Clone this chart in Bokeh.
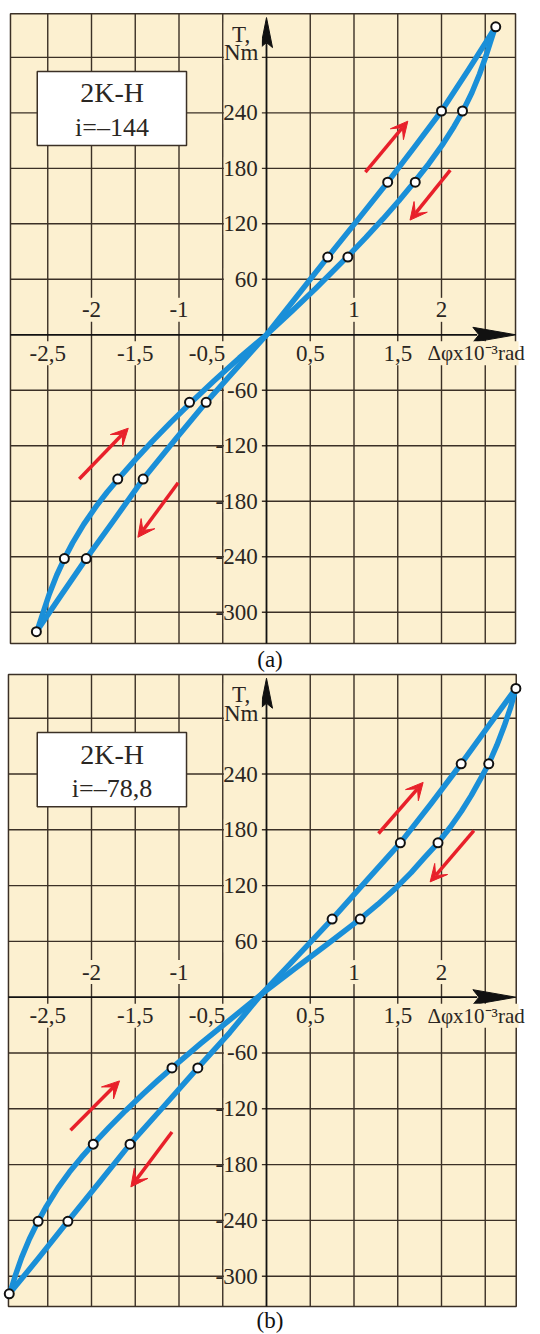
from bokeh.plotting import figure
from bokeh.layouts import column
from bokeh.models import Range1d, Arrow, VeeHead
from bokeh.core.properties import value
from bokeh.embed import file_html
from bokeh.resources import INLINE

# ---------------- data ----------------
x_grid = [-2.5, -2.0, -1.5, -1.0, -0.5, 0.5, 1.0, 1.5, 2.0, 2.5]
y_grid = [-300, -240, -180, -120, -60, 60, 120, 180, 240, 300]
x_int_ticks = [-2, -1, 1, 2]
x_int_labels = ["-2", "-1", "1", "2"]
x_half_ticks = [-2.5, -1.5, -0.5, 0.5, 1.5]
x_half_labels = ["-2,5", "-1,5", "-0,5", "0,5", "1,5"]
y_label_ticks = [240, 180, 120, 60, -60, -120, -180, -240, -300]
y_labels = ["240", "180", "120", "60", "-60", "-120", "-180", "-240", "-300"]

# panel (a) i=-144 : S-shaped branch and nearly straight branch
a_S_x = [-2.624, -2.552, -2.481, -2.398, -2.310, -2.216, -2.089, -1.943, -1.820, -1.695,
         -1.499, -1.303, -1.097, -0.860, -0.602, -0.311, 0.0,
         0.284, 0.562, 0.920, 1.134, 1.328, 1.513, 1.688, 1.855, 2.007, 2.142, 2.245,
         2.348, 2.435, 2.510, 2.564, 2.615]
a_S_y = [-321, -300, -280, -260, -242, -225, -205, -185, -170, -156,
         -135, -115, -95, -73, -50, -25, 0,
         25, 50, 84, 105, 125, 145, 165, 185, 205, 225, 242,
         262, 282, 302, 318, 333]
a_L_x = [-2.63, -2.35, -2.06, -1.74, -1.41, -1.05, -0.69, -0.34, 0.0, 0.35, 0.70, 1.04,
         1.385, 1.69, 2.00, 2.31, 2.62]
a_L_y = [-321, -282, -242, -200, -156, -114, -73, -36, 0, 42, 84, 124,
         165, 203, 242, 287, 333]
a_mk_x = [2.62, 2.00, 2.24, 1.385, 1.70, 0.70, 0.93, -0.88, -0.69, -1.70, -1.41, -2.31, -2.06, -2.63]
a_mk_y = [333, 242, 242, 165, 165, 84, 84, -73, -73, -156, -156, -242, -242, -321]

# panel (b) i=-78,8
b_S_x = [-2.934, -2.873, -2.799, -2.710, -2.610, -2.516, -2.383, -2.252, -2.113, -1.980,
         -1.800, -1.611, -1.411, -1.248, -1.079, -0.754, -0.416, -0.06,
         0.314, 0.694, 1.069, 1.274, 1.474, 1.653, 1.805, 1.960, 2.102, 2.228, 2.341, 2.441,
         2.540, 2.633, 2.715, 2.788, 2.850]
b_S_y = [-319, -300, -280, -260, -241, -225, -205, -188, -172, -158,
         -140, -122, -104, -90, -76, -50, -24, 3,
         30, 57, 84, 100, 117, 134, 150, 166, 183, 200, 217, 234,
         251, 271, 291, 311, 332]
b_L_x = [-2.94, -2.60, -2.27, -1.90, -1.56, -1.17, -0.785, -0.42, -0.06, 0.35, 0.75, 1.14,
         1.53, 1.88, 2.225, 2.54, 2.85]
b_L_y = [-319, -280, -241, -198, -158, -117, -76, -38, 3, 44, 84, 125,
         166, 208, 251, 292, 332]
b_mk_x = [2.85, 2.225, 2.54, 1.53, 1.96, 0.75, 1.07, -1.08, -0.785, -1.98, -1.56, -2.61, -2.27, -2.94]
b_mk_y = [332, 251, 251, 166, 166, 84, 84, -76, -76, -158, -158, -241, -241, -319]

# ---------------- styles ----------------
CREAM = "#fcf0d0"
GRID = "#3b3026"
BLUE = "#1a8fd8"
RED = "#e8202a"
TXT = "#2a2622"
FONT = value("Liberation Serif")
XPX = 87.5  # pixels per x unit


def make_panel(S_x, S_y, L_x, L_y, mk_x, mk_y, ratio_text, caption, cap_px, y0px, tpp,
               box, arrows, H):
    p = figure(width=540, height=H, x_axis_type=None, y_axis_type=None,
               toolbar_location=None, output_backend="svg", min_border=0,
               x_range=Range1d(-266 / XPX, (540 - 266) / XPX),
               y_range=Range1d(-(H - y0px) * tpp, y0px * tpp),
               background_fill_color="white", border_fill_color="white",
               outline_line_color=None)
    xl, xr, yb, yt = box
    # panel background + frame
    p.quad(left=[xl], right=[xr], bottom=[yb], top=[yt], fill_color=CREAM,
           line_color=GRID, line_width=1.5)
    # grid
    p.segment(x0=x_grid, x1=x_grid, y0=[yb] * len(x_grid), y1=[yt] * len(x_grid),
              line_color=GRID, line_width=1.4)
    p.segment(x0=[xl] * len(y_grid), x1=[xr] * len(y_grid), y0=y_grid, y1=y_grid,
              line_color=GRID, line_width=1.4)
    # axes lines
    xa_base = 2.85 - 43 / XPX
    p.segment(x0=[xl], x1=[xa_base + 0.05], y0=[0], y1=[0], line_color="#111111", line_width=1.8)
    ya_tip = 343
    ya_base = ya_tip - 30 * tpp
    p.segment(x0=[0], x1=[0], y0=[yb], y1=[ya_base + 5 * tpp], line_color="#111111", line_width=1.8)
    # axis arrow heads
    hh = 7.5 * tpp
    p.patch(x=[2.85, xa_base, xa_base + 6 / XPX, xa_base], y=[0, hh, 0, -hh],
            fill_color="#111111", line_color="#111111", line_width=1)
    hw = 6 / XPX
    p.patch(x=[0, hw, 0, -hw], y=[ya_tip, ya_base, ya_base + 5 * tpp, ya_base],
            fill_color="#111111", line_color="#111111", line_width=1)

    # label masks
    p.rect(x=[-0.27] * len(y_label_ticks), y=y_label_ticks, width=38, height=22,
           width_units="screen", height_units="screen", fill_color=CREAM, line_color=None)
    p.rect(x=[-0.27], y=[315], width=38, height=42, width_units="screen",
           height_units="screen", fill_color=CREAM, line_color=None)
    p.rect(x=x_int_ticks, y=[27] * len(x_int_ticks), width=26, height=24,
           width_units="screen", height_units="screen", fill_color=CREAM, line_color=None)
    half_pos = [t - 0.18 if t == -0.5 else t for t in x_half_ticks]
    p.rect(x=half_pos, y=[-20] * len(half_pos), width=42, height=24,
           width_units="screen", height_units="screen", fill_color=CREAM, line_color=None)
    p.rect(x=[(424 + 518) / 2 / XPX - 266 / XPX], y=[-20], width=94, height=24,
           width_units="screen", height_units="screen", fill_color=CREAM, line_color=None)

    # tick labels
    p.text(x=[-0.1] * len(y_label_ticks), y=y_label_ticks, text=y_labels, text_font=FONT,
           text_font_size="23px", text_align="right", text_baseline="middle", text_color=TXT)
    p.text(x=x_int_ticks, y=[27] * len(x_int_ticks), text=x_int_labels, text_font=FONT,
           text_font_size="23px", text_align="center", text_baseline="middle", text_color=TXT)
    p.text(x=half_pos, y=[-20] * len(half_pos), text=x_half_labels, text_font=FONT,
           text_font_size="23px", text_align="center", text_baseline="middle", text_color=TXT)
    p.text(x=[(427 - 266) / XPX], y=[-20], text=["Δφx10⁻³rad"], text_font=FONT,
           text_font_size="21px", text_align="left", text_baseline="middle", text_color=TXT)
    p.text(x=[-0.29, -0.29], y=[325, 305], text=["T,", "Nm"], text_font=FONT,
           text_font_size="23px", text_align="center", text_baseline="middle", text_color=TXT)

    # info box
    p.quad(left=[-2.62], right=[-0.914], bottom=[204.7], top=[284.7], fill_color="white",
           line_color=GRID, line_width=1.5)
    p.text(x=[-1.765, -1.765], y=[261.5, 224.5], text=["2K-H", ratio_text], text_font=FONT,
           text_font_size=["28px", "26px"], text_align="center", text_baseline="middle",
           text_color=TXT)

    # curves
    p.line(S_x, S_y, line_color=BLUE, line_width=5.5, line_join="round", line_cap="round")
    p.line(L_x, L_y, line_color=BLUE, line_width=5.5, line_join="round", line_cap="round")
    p.scatter(mk_x, mk_y, size=9, fill_color="white", line_color="#111111", line_width=2)

    # direction arrows
    for (x0, y0, x1, y1) in arrows:
        p.add_layout(Arrow(end=VeeHead(size=17, fill_color=RED, line_color=RED),
                           x_start=x0, y_start=y0, x_end=x1, y_end=y1,
                           line_color=RED, line_width=3.5))

    # caption
    p.text(x=[0.04], y=[-(cap_px - y0px) * tpp], text=[caption], text_font=FONT,
           text_font_size="23px", text_align="center", text_baseline="middle", text_color="#111111")
    return p


HA = 672
HB = 1334 - HA
pa = make_panel(a_S_x, a_S_y, a_L_x, a_L_y, a_mk_x, a_mk_y, "i=–144", "(a)", 659,
                334.3, 1.0813, (-2.926, 2.846, -333.8, 347.1),
                [(1.13, 176, 1.615, 231), (2.10, 178, 1.64, 124),
                 (-2.14, -156, -1.58, -101), (-1.01, -160, -1.47, -219)], HA)
pb = make_panel(b_S_x, b_S_y, b_L_x, b_L_y, b_mk_x, b_mk_y, "i=–78,8", "(b)", 1320 - HA,
                996.7 - HA, 1.0753, (-2.949, 2.854, -332.6, 347.0),
                [(1.28, 176, 1.79, 231), (2.37, 179, 1.87, 124),
                 (-2.24, -143, -1.68, -90), (-1.08, -145, -1.55, -204)], HB)

layout = column(pa, pb, spacing=0)
open("out.html", "w").write(file_html(layout, INLINE))
